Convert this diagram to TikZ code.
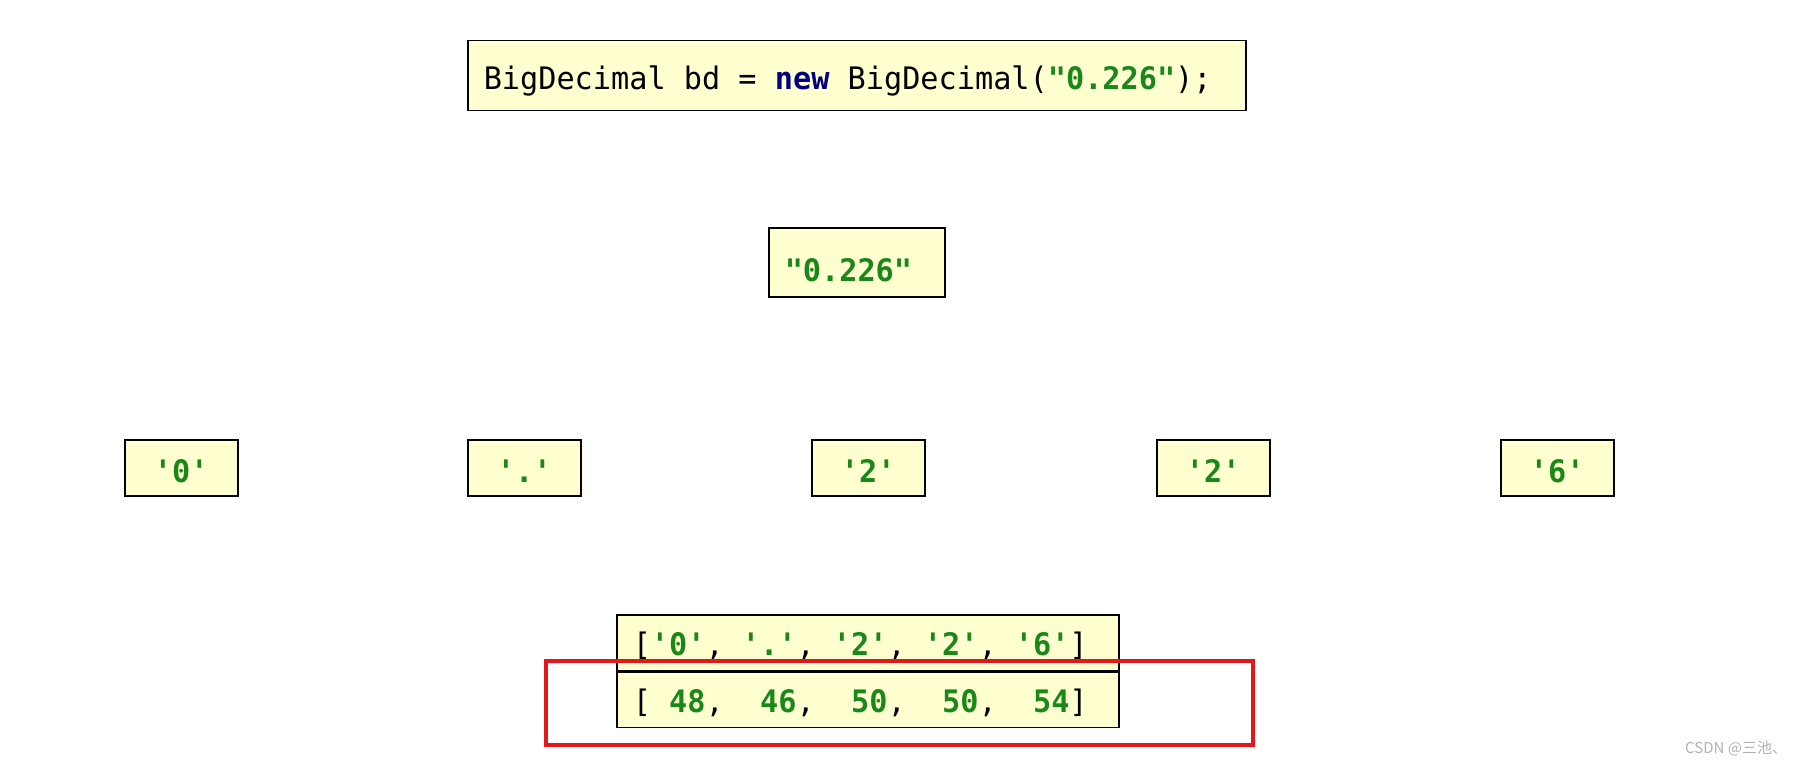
\documentclass[tikz,border=0pt]{standalone}
\usepackage{fontspec}
\usepackage{tikz}

\setmonofont{DejaVu Sans Mono}[FakeStretch=0.975]
\newfontfamily\cjk{Noto Sans CJK SC}

\definecolor{boxfill}{RGB}{255,255,208}
\definecolor{strgreen}{RGB}{25,135,25}
\definecolor{kwnavy}{RGB}{0,0,128}
\definecolor{markred}{RGB}{228,24,24}

\newcommand{\strtxt}[1]{\textcolor{strgreen}{\textbf{#1}}}
% one fixed-width blank of the mono font
\newcommand{\blank}{\hphantom{0}}

\begin{document}
\begin{tikzpicture}[x=1pt,y=-1pt,
		cell/.style={draw=black,line width=1.5pt,fill=boxfill,inner ysep=0pt,anchor=north west,
			font=\ttfamily\fontsize{31}{37}\selectfont},
		leftcell/.style={cell,align=left,inner xsep=16pt},
		charcell/.style={cell,align=center,inner xsep=0pt,minimum width=113pt,text height=43pt,text depth=13pt}]
			\useasboundingbox[fill=white] (0,0) rectangle (1794,765);
			% declaration
			\node[leftcell,text width=746pt,text height=49pt,text depth=21pt] (decl) at (467,40)
				{BigDecimal\blank bd\blank=\blank\textcolor{kwnavy}{\textbf{new}}\blank BigDecimal(\strtxt{"0.226"});};
			% the string
			\node[leftcell,text width=144pt,text height=54pt,text depth=15pt] (str) at (768,227) {\strtxt{"0.226"}};
			% single chars
			\foreach \xpos/\ch/\nm in {124/0/c0, 467/./c1, 811/2/c2, 1156/2/c3, 1500/6/c4}
				\node[charcell] (\nm) at (\xpos,439) {\strtxt{'\ch'}};
			% char array and its codes
			\node[leftcell,text width=470pt,text height=41pt,text depth=15pt] (chars) at (616,614)
				{[\strtxt{'0'},\blank\strtxt{'.'},\blank\strtxt{'2'},\blank\strtxt{'2'},\blank\strtxt{'6'}]};
			\node[leftcell,text width=470pt,text height=40pt,text depth=15pt] (codes) at (chars.south west)
				{[\blank\strtxt{48},\blank\blank\strtxt{46},\blank\blank\strtxt{50},\blank\blank\strtxt{50},\blank\blank\strtxt{54}]};
			\draw[markred,line width=3.5pt] (546,661) rectangle (1253,745);
			\node[anchor=west,inner sep=0pt,text=gray!60,font=\cjk\fontsize{15}{18}\selectfont] (wm) at (1685,749) {CSDN @三池、};
		\end{tikzpicture}
\end{document}
